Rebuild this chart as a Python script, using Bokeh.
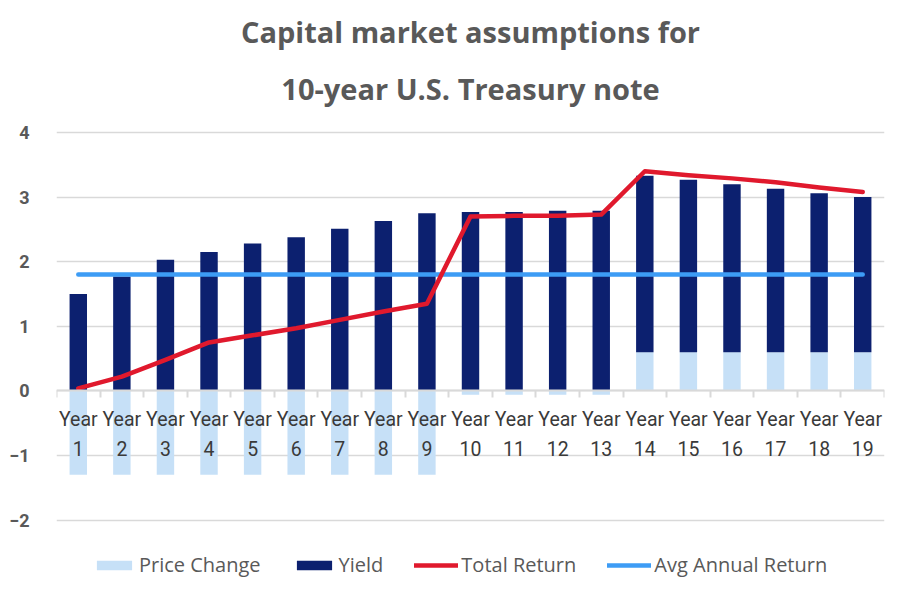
from bokeh.plotting import figure
from bokeh.models import (Range1d, LinearAxis, FixedTicker, Grid,
                          Legend, LegendItem, Title, ColumnDataSource)
from bokeh.embed import file_html
from bokeh.resources import INLINE

title_lines = ["Capital market assumptions for", "10-year U.S. Treasury note"]
categories = ["Year\n1", "Year\n2", "Year\n3", "Year\n4", "Year\n5", "Year\n6", "Year\n7",
              "Year\n8", "Year\n9", "Year\n10", "Year\n11", "Year\n12", "Year\n13", "Year\n14",
              "Year\n15", "Year\n16", "Year\n17", "Year\n18", "Year\n19"]
price_change = [-1.30, -1.30, -1.30, -1.30, -1.30, -1.30, -1.30, -1.30, -1.30,
                -0.06, -0.06, -0.06, -0.06, 0.60, 0.60, 0.60, 0.60, 0.60, 0.60]
yield_vals = [1.50, 1.77, 2.03, 2.15, 2.28, 2.38, 2.51, 2.63, 2.75,
              2.77, 2.77, 2.79, 2.79, 2.73, 2.67, 2.60, 2.53, 2.46, 2.40]
total_return = [0.04, 0.22, 0.48, 0.75, 0.86, 0.97, 1.10, 1.23, 1.35,
                2.70, 2.71, 2.71, 2.73, 3.40, 3.34, 3.29, 3.23, 3.15, 3.08]
avg_annual_return = [1.80, 1.80, 1.80, 1.80, 1.80, 1.80, 1.80, 1.80, 1.80, 1.80,
                     1.80, 1.80, 1.80, 1.80, 1.80, 1.80, 1.80, 1.80, 1.80]
y_ticks = [-2, -1, 0, 1, 2, 3, 4]

n = len(categories)
xs = list(range(1, n + 1))
bounds = [i + 0.5 for i in range(n + 1)]
yield_bottom = [max(pc, 0) for pc in price_change]
yield_top = [b + y for b, y in zip(yield_bottom, yield_vals)]
zeros = [0] * n

src = ColumnDataSource(data=dict(x=xs, pc=price_change, zero=zeros,
                                 yb=yield_bottom, yt=yield_top, tr=total_return,
                                 avg=avg_annual_return))

TEXT_GRAY = "#595959"
GRID = "#d9d9d9"

p = figure(width=893, height=586, output_backend="svg", toolbar_location=None,
           x_range=Range1d(0.5, n + 0.5),
           y_range=Range1d(-3.028, 4.062),
           x_axis_type=None, y_axis_type=None,
           min_border_left=56, min_border_right=9, min_border_top=128, min_border_bottom=0)
p.outline_line_color = None
p.background_fill_color = "white"
p.border_fill_color = "white"

p.add_layout(Grid(dimension=1, ticker=FixedTicker(ticks=y_ticks),
                  grid_line_color=GRID, grid_line_width=1.6))

r_pc = p.vbar(x="x", top="pc", bottom="zero", width=0.4, source=src,
              fill_color="#c6e0f7", line_color=None)
r_y = p.vbar(x="x", top="yt", bottom="yb", width=0.4, source=src,
             fill_color="#0c206f", line_color=None)
r_avg = p.line(x="x", y="avg", source=src, line_color="#3d9cf5", line_width=4.5,
               line_cap="round")
r_tr = p.line(x="x", y="tr", source=src, line_color="#e0192d", line_width=4.5,
              line_cap="round", line_join="round")

# y axis
yaxis = LinearAxis(ticker=FixedTicker(ticks=y_ticks))
yaxis.axis_line_color = None
yaxis.major_tick_line_color = None
yaxis.minor_tick_line_color = None
yaxis.major_label_standoff = 21
yaxis.major_label_text_font = "Roboto"
yaxis.major_label_text_font_style = "bold"
yaxis.major_label_text_font_size = "18px"
yaxis.major_label_text_color = TEXT_GRAY
p.add_layout(yaxis, "left")

# boundary ticks on the zero line
baxis = LinearAxis(ticker=FixedTicker(ticks=bounds), fixed_location=0)
baxis.axis_line_color = GRID
baxis.axis_line_width = 2
baxis.major_tick_line_color = GRID
baxis.major_tick_line_width = 2
baxis.major_tick_in = 0
baxis.major_tick_out = 7
baxis.minor_tick_line_color = None
baxis.major_label_overrides = {b: "" for b in bounds}
p.add_layout(baxis, "below")

# category labels on the zero line
xaxis = LinearAxis(ticker=FixedTicker(ticks=xs), fixed_location=0)
xaxis.major_label_overrides = {x: c for x, c in zip(xs, categories)}
xaxis.axis_line_color = None
xaxis.major_tick_line_color = None
xaxis.minor_tick_line_color = None
xaxis.major_label_standoff = 11
xaxis.major_label_text_font = "Roboto"
xaxis.major_label_text_font_size = "19.5px"
xaxis.major_label_text_color = "#3a3a3a"
xaxis.major_label_text_line_height = 1.3
p.add_layout(xaxis, "below")

legend = Legend(items=[LegendItem(label="Price Change", renderers=[r_pc]),
                       LegendItem(label="Yield", renderers=[r_y]),
                       LegendItem(label="Total Return", renderers=[r_tr]),
                       LegendItem(label="Avg Annual Return", renderers=[r_avg])],
                orientation="horizontal", location=(36, 8))
legend.border_line_color = None
legend.background_fill_alpha = 0
legend.padding = 0
legend.spacing = 31
legend.glyph_width = 44
legend.glyph_height = 12
legend.label_standoff = 3
legend.label_text_font = "Open Sans"
legend.label_text_font_size = "20px"
legend.label_text_color = TEXT_GRAY
p.add_layout(legend, "center")

t2 = Title(text=title_lines[1], align="center", text_font="Open Sans",
           text_font_size="29px", text_font_style="bold", text_color=TEXT_GRAY, standoff=42)
t1 = Title(text=title_lines[0], align="center", text_font="Open Sans",
           text_font_size="29px", text_font_style="bold", text_color=TEXT_GRAY, standoff=-11)
p.add_layout(t2, "above")
p.add_layout(t1, "above")

open("out.html", "w").write(file_html(p, INLINE))
